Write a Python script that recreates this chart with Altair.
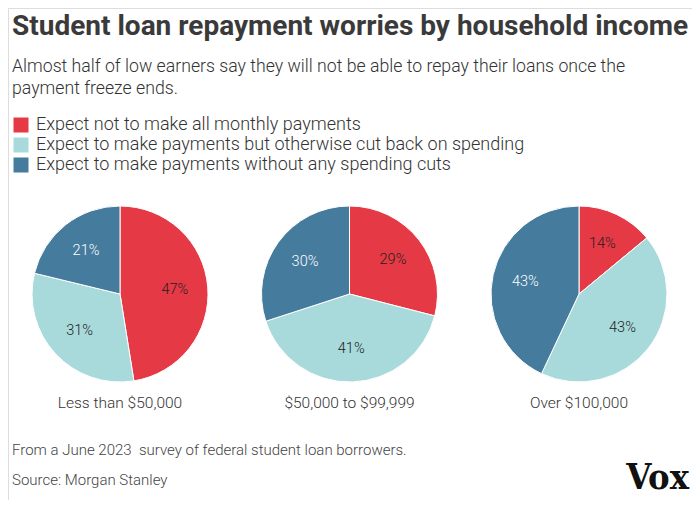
import altair as alt
import pandas as pd

# ---- data ----
GROUPS = ["Less than $50,000", "$50,000 to $99,999", "Over $100,000"]
CATEGORIES = [
    "Expect not to make all monthly payments",
    "Expect to make payments but otherwise cut back on spending",
    "Expect to make payments without any spending cuts",
]
NOT_ALL = [47, 29, 14]
CUT_BACK = [31, 41, 43]
NO_CUTS = [21, 30, 43]
COLORS = ["#e63946", "#a8dadc", "#457b9d"]

TITLE = "Student loan repayment worries by household income"
SUBTITLE = [
    "Almost half of low earners say they will not be able to repay their loans once the",
    "payment freeze ends.",
]
NOTES = ["From a June 2023\u00a0 survey of federal student loan borrowers.", "Source: Morgan Stanley"]
LOGO = "Vox"

rows = []
for gi, g in enumerate(GROUPS):
    for ci, (c, vals) in enumerate(zip(CATEGORIES, [NOT_ALL, CUT_BACK, NO_CUTS])):
        rows.append({"group": g, "cat": c, "order": ci, "value": vals[gi]})
df = pd.DataFrame(rows)

FONT = "Roboto"
TXT = "#333333"

x_enc = alt.X("group:N", scale=alt.Scale(type="point", domain=GROUPS, range=[112, 571], padding=0), axis=None)

base = (
    alt.Chart(df)
    .transform_joinaggregate(total="sum(value)", groupby=["group"])
    .transform_window(cum="sum(value)", groupby=["group"], sort=[alt.SortField("order")], frame=[None, 0])
    .transform_calculate(
        t1="(datum.cum - datum.value) / datum.total",
        t2="datum.cum / datum.total",
        mid="(datum.cum - datum.value / 2) / datum.total",
        label="datum.value + '%'",
    )
)

theta_scale = alt.Scale(domain=[0, 1], range=[0, 6.283185307179586])

arcs = base.mark_arc(outerRadius=88, stroke="white", strokeWidth=1).encode(
    x=x_enc,
    y=alt.value(286),
    theta=alt.Theta("t1:Q", stack=None, scale=theta_scale),
    theta2="t2",
    color=alt.Color(
        "cat:N",
        scale=alt.Scale(domain=CATEGORIES, range=COLORS),
        legend=alt.Legend(
            title=None,
            orient="none",
            legendX=4,
            legendY=108,
            direction="vertical",
            symbolType="square",
            symbolSize=225,
            symbolStrokeWidth=0,
            symbolOpacity=1,
            labelFont=FONT,
            labelFontSize=18,
            labelFontWeight=300,
            labelColor=TXT,
            labelOffset=6,
            rowPadding=2,
            labelLimit=600,
        ),
    ),
)

pct = base.mark_text(radius=55, font=FONT, fontSize=14.5, fontWeight=300, align="center", baseline="middle").encode(
    x=x_enc,
    y=alt.value(286),
    theta=alt.Theta("mid:Q", stack=None, scale=theta_scale),
    text="label:N",
    color=alt.condition(alt.datum.order == 2, alt.value("white"), alt.value("#222222")),
)

glabels = alt.Chart(pd.DataFrame({"group": GROUPS})).mark_text(
    font=FONT, fontSize=15.5, fontWeight=300, color=TXT, baseline="middle"
).encode(x=x_enc, y=alt.value(395), text="group:N")

title = alt.Chart(pd.DataFrame({"t": [TITLE]})).mark_text(
    font=FONT, fontSize=28, fontWeight="bold", color="#3a3a3a", align="left", baseline="alphabetic"
).encode(x=alt.value(4), y=alt.value(27), text="t:N")

sub = alt.Chart(pd.DataFrame({"t": [SUBTITLE]})).mark_text(
    font=FONT, fontSize=17.7, fontWeight=300, color=TXT, align="left", baseline="middle", lineHeight=22
).encode(x=alt.value(4), y=alt.value(59), text="t")

notes = alt.Chart(pd.DataFrame({"t": [NOTES]})).mark_text(
    font=FONT, fontSize=15, fontWeight=300, color="#444444", align="left", baseline="middle", lineHeight=30
).encode(x=alt.value(4), y=alt.value(442), text="t")

logo = alt.Chart(pd.DataFrame({"t": [LOGO]})).mark_text(
    font="DejaVu Serif Condensed", fontSize=36, fontWeight="bold", color="#111111", align="right", baseline="alphabetic"
).encode(x=alt.value(681), y=alt.value(481), text="t:N")

chart = (
    alt.layer(arcs, pct, glabels, title, sub, notes, logo)
    .properties(width=684, height=492, padding=0, autosize=alt.AutoSizeParams(type="none"))
    .configure_view(stroke=None)
    .configure(background="white")
)

chart.save("out.html", embed_options={"renderer": "svg", "actions": False})
